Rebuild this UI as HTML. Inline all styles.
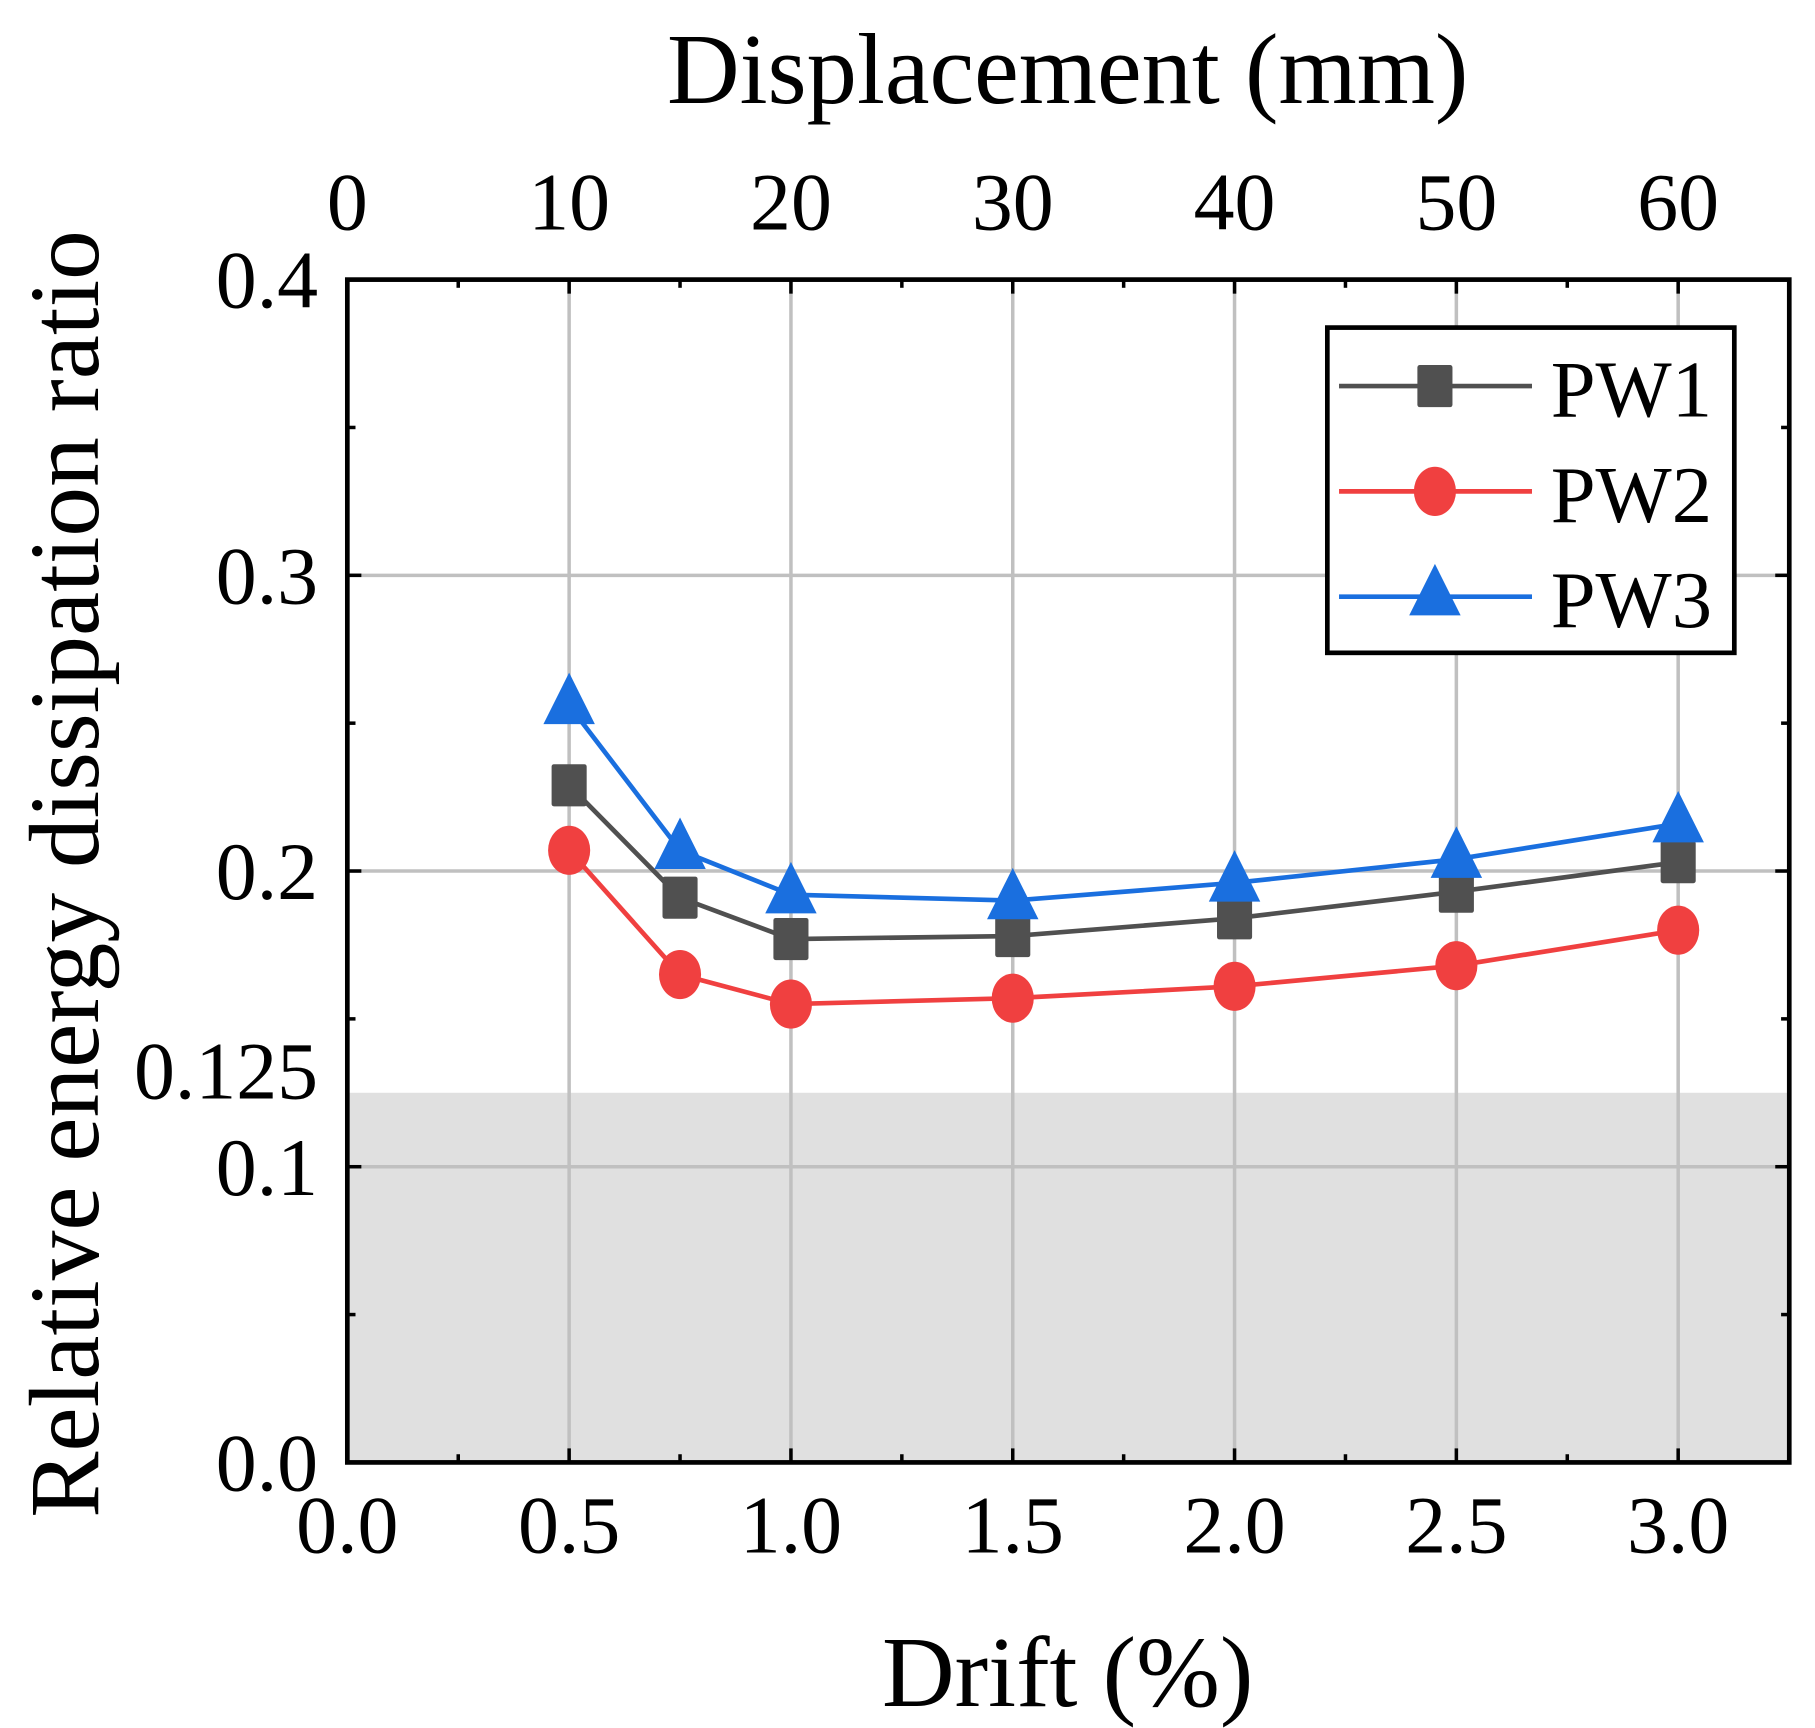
<!DOCTYPE html>
<html><head><meta charset="utf-8"><style>
html,body{margin:0;padding:0;background:#fff}
svg{display:block}
text{font-family:"Liberation Serif",serif;fill:#000}
</style></head><body>
<svg id="chart" width="1815" height="1728" viewBox="0 0 1552 1477" preserveAspectRatio="none" xmlns="http://www.w3.org/2000/svg"></svg>
<script>
const drifts = [0.5, 0.75, 1.0, 1.5, 2.0, 2.5, 3.0];
const pw1 = [0.229, 0.191, 0.177, 0.178, 0.184, 0.193, 0.203];
const pw2 = [0.207, 0.165, 0.155, 0.157, 0.161, 0.168, 0.180];
const pw3 = [0.256, 0.207, 0.192, 0.190, 0.196, 0.204, 0.216];
const xTickLabels = ["0.0","0.5","1.0","1.5","2.0","2.5","3.0"];
const xTickValues = [0,0.5,1,1.5,2,2.5,3];
const topTickLabels = ["0","10","20","30","40","50","60"];
const topTickDrifts = [0,0.5,1,1.5,2,2.5,3];
const yTickLabels = ["0.0","0.1","0.125","0.2","0.3","0.4"];
const yTickValues = [0,0.1,0.125,0.2,0.3,0.4];
const thresholdValue = 0.125;

const L=297,R=1530,T=239,B=1250;
const X0=297,X3=1435;
const sx=v=>X0+(X3-X0)*v/3;
const sy=v=>B-(B-T)*v/0.4;
const svg=document.getElementById('chart');
const NS='http://www.w3.org/2000/svg';
function mk(tag,attrs,parent){const e=document.createElementNS(NS,tag);for(const k in attrs)e.setAttribute(k,attrs[k]);(parent||svg).appendChild(e);return e;}

let e=mk('rect',{x:L,y:sy(thresholdValue),width:R-L,height:B-sy(thresholdValue),fill:'#e0e0e0'});


[0.5,1,1.5,2,2.5,3].forEach(v=>{const g=mk('line',{x1:sx(v),x2:sx(v),y1:T,y2:B,stroke:'#c0c0c0','stroke-width':3});

});
[0.1,0.2,0.3].forEach(v=>{const g=mk('line',{x1:L,x2:R,y1:sy(v),y2:sy(v),stroke:'#c0c0c0','stroke-width':3});

});
for(let v=0;v<=3.25+1e-9;v+=0.25){const maj=Math.abs(v*2-Math.round(v*2))<1e-9;const len=maj?12:7;
mk('line',{x1:sx(v),x2:sx(v),y1:B,y2:B-len,stroke:'#000','stroke-width':3});
mk('line',{x1:sx(v),x2:sx(v),y1:T,y2:T+len,stroke:'#000','stroke-width':3});}
for(let v=0;v<=0.4+1e-9;v+=0.05){const maj=Math.abs(v*10-Math.round(v*10))<1e-9;const len=maj?12:7;
mk('line',{x1:L,x2:L+len,y1:sy(v),y2:sy(v),stroke:'#000','stroke-width':3});
mk('line',{x1:R,x2:R-len,y1:sy(v),y2:sy(v),stroke:'#000','stroke-width':3});}
e=mk('rect',{x:L,y:T,width:R-L,height:B-T,fill:'none',stroke:'#000','stroke-width':4});


xTickLabels.forEach((t,i)=>{const tx=mk('text',{x:sx(xTickValues[i]),y:1327,'font-size':70,'text-anchor':'middle'});tx.textContent=t;

});
topTickLabels.forEach((t,i)=>{const tx=mk('text',{x:sx(topTickDrifts[i]),y:196,'font-size':70,'text-anchor':'middle'});tx.textContent=t;

});
yTickLabels.forEach((t,i)=>{const yy=yTickValues[i]===0.125?sy(0.125)+5:sy(yTickValues[i])+24;
const tx=mk('text',{x:272,y:yy,'font-size':70,'text-anchor':'end'});tx.textContent=t;

});
e=mk('text',{x:913,y:88,'font-size':86,'text-anchor':'middle'});e.textContent='Displacement (mm)';


e=mk('text',{x:913,y:1458,'font-size':86,'text-anchor':'middle'});e.textContent='Drift (%)';


e=mk('text',{x:0,y:0,'font-size':85,'text-anchor':'middle',transform:'translate(84,747) rotate(-90)'});e.textContent='Relative energy dissipation ratio';



function marker(kind,x,y,color,parent){
 if(kind==='sq') return mk('rect',{x:x-15,y:y-18,width:30,height:36,rx:2,fill:color},parent);
 if(kind==='ci') return mk('ellipse',{cx:x,cy:y,rx:18,ry:21,fill:color},parent);
 return mk('polygon',{points:`${x},${y-28} ${x+22},${y+16} ${x-22},${y+16}`,fill:color},parent);
}
const series=[{name:'pw1',d:pw1,c:'#505050',m:'sq'},{name:'pw2',d:pw2,c:'#f04040',m:'ci'},{name:'pw3',d:pw3,c:'#1a6fdf',m:'tr'}];
series.forEach(s=>{
 const g=mk('g',{});
 
 
 const pts=drifts.map((x,i)=>sx(x)+','+sy(s.d[i])).join(' ');
 mk('polyline',{points:pts,fill:'none',stroke:s.c,'stroke-width':4},g);
 drifts.forEach((x,i)=>{const m=marker(s.m,sx(x),sy(s.d[i]),s.c,g);
 
 });
});
const lg=mk('g',{});


mk('rect',{x:1135,y:280,width:348,height:278,fill:'#fff',stroke:'#000','stroke-width':4},lg);
series.forEach((s,i)=>{const y=[330,420,510][i];
 const eg=mk('g',{},lg);
 
 
 mk('line',{x1:1145,x2:1310,y1:y,y2:y,stroke:s.c,'stroke-width':4},eg);
 marker(s.m,1227,y,s.c,eg);
 const t=mk('text',{x:1326,y:y+26,'font-size':69},eg);t.textContent=s.name.toUpperCase();
});
</script>
</body></html>
